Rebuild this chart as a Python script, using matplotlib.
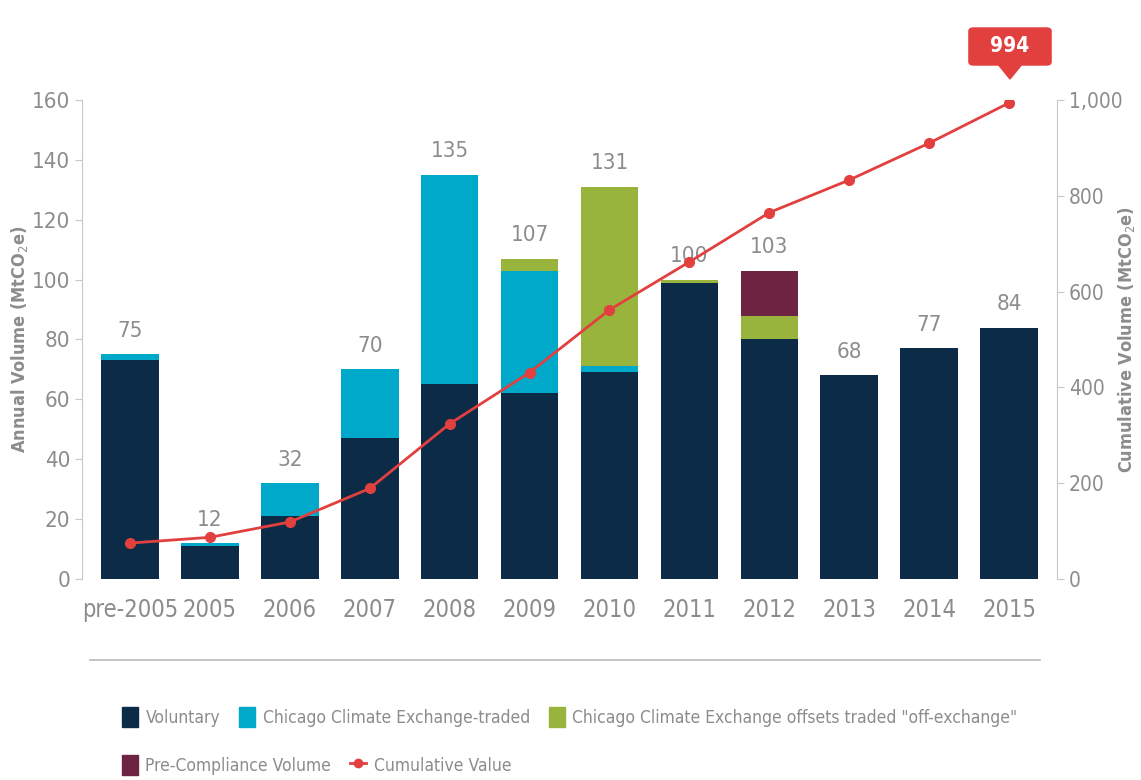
import matplotlib
matplotlib.use('Agg')
import matplotlib.pyplot as plt
from matplotlib.patches import FancyBboxPatch, Polygon, Patch
from matplotlib.lines import Line2D

plt.rcParams['font.family'] = ['DejaVu Sans']
plt.rcParams['font.stretch'] = 'condensed'

# annual volumes by segment (MtCO2e)
years = ['pre-2005', '2005', '2006', '2007', '2008', '2009', '2010', '2011', '2012', '2013', '2014', '2015']
voluntary = [73, 11, 21, 47, 65, 62, 69, 99, 80, 68, 77, 84]
ccx_traded = [2, 1, 11, 23, 70, 41, 2, 0, 0, 0, 0, 0]
ccx_off = [0, 0, 0, 0, 0, 4, 60, 1, 8, 0, 0, 0]
pre_compliance = [0, 0, 0, 0, 0, 0, 0, 0, 15, 0, 0, 0]
totals = [75, 12, 32, 70, 135, 107, 131, 100, 103, 68, 77, 84]
cumulative = [75, 87, 119, 189, 324, 431, 562, 662, 765, 833, 910, 994]

c_vol = '#0b2b47'
c_ccx = '#00a8c9'
c_off = '#99b43c'
c_pre = '#6d2443'
c_line = '#e2403f'
grey = '#8c8c8c'

fig = plt.figure(figsize=(11.41, 7.8), dpi=100)
ax = fig.add_axes([0.0719, 0.2577, 0.8545, 0.6141])
ax2 = ax.twinx()

x = list(range(len(years)))
w = 0.72
b1 = voluntary
b2 = [a + b for a, b in zip(b1, ccx_traded)]
b3 = [a + b for a, b in zip(b2, ccx_off)]
ax.bar(x, voluntary, w, color=c_vol, zorder=2)
ax.bar(x, ccx_traded, w, bottom=b1, color=c_ccx, zorder=2)
ax.bar(x, ccx_off, w, bottom=b2, color=c_off, zorder=2)
ax.bar(x, pre_compliance, w, bottom=b3, color=c_pre, zorder=2)

for i, t in enumerate(totals):
    ax.text(i, t + 4.5, str(t), ha='center', va='bottom', color=grey, fontsize=16)

ax2.plot(x, cumulative, color=c_line, lw=2, marker='o', ms=7, zorder=3)

ax.set_xlim(-0.6, 11.6)
ax.set_ylim(0, 160)
ax2.set_ylim(0, 1000)
ax.set_yticks(range(0, 161, 20))
ax2.set_yticks(range(0, 1001, 200))
ax2.set_yticklabels(['0', '200', '400', '600', '800', '1,000'])
ax.set_xticks(x)
ax.set_xticklabels(years)

for a in (ax, ax2):
    for s in ('top', 'bottom'):
        a.spines[s].set_visible(False)
    a.spines['left'].set_color('#c8c8c8')
    a.spines['right'].set_color('#c8c8c8')
    a.tick_params(axis='y', colors='#c8c8c8', labelcolor=grey, labelsize=16, length=5)
ax2.tick_params(axis='y', labelsize=15)
ax2.spines['left'].set_visible(False)
ax.spines['right'].set_visible(False)
ax.tick_params(axis='x', length=0, labelsize=17, labelcolor=grey, pad=14)

ax.set_ylabel('Annual Volume (MtCO$_2$e)', color=grey, fontsize=13, fontweight='bold')
ax2.set_ylabel('Cumulative Volume (MtCO$_2$e)', color=grey, fontsize=13, fontweight='bold')
ax.yaxis.set_label_coords(-0.053, 0.5)
ax2.yaxis.set_label_coords(1.061, 0.5)

# callout for final cumulative total
fig_x = 1010 / 1141
box = FancyBboxPatch((fig_x - 0.036, 1 - 65 / 780), 0.072, 37 / 780,
                     boxstyle='round,pad=0,rounding_size=0.004',
                     transform=fig.transFigure, color=c_line, zorder=5)
fig.patches.append(box)
tri = Polygon([[fig_x - 0.01, 1 - 65 / 780], [fig_x + 0.01, 1 - 65 / 780], [fig_x, 1 - 79 / 780]],
              closed=True, transform=fig.transFigure, color=c_line, zorder=5)
fig.patches.append(tri)
fig.text(fig_x, 1 - 46.5 / 780, str(cumulative[-1]), ha='center', va='center',
         color='white', fontsize=15, fontweight='bold', zorder=6)

# separator above legend
fig.add_artist(Line2D([90 / 1141, 1040 / 1141], [1 - 660 / 780] * 2, color='#bbbbbb', lw=1.2,
                      transform=fig.transFigure))

h1 = [Patch(color=c_vol, label='Voluntary'),
      Patch(color=c_ccx, label='Chicago Climate Exchange-traded'),
      Patch(color=c_off, label='Chicago Climate Exchange offsets traded "off-exchange"')]
h2 = [Patch(color=c_pre, label='Pre-Compliance Volume'),
      Line2D([], [], color=c_line, marker='o', ms=6, lw=2, label='Cumulative Value')]
kw = dict(frameon=False, handlelength=0.9, handleheight=1.4, handletextpad=0.45,
          columnspacing=1.1, fontsize=12.5, labelcolor=grey, loc='center left', borderaxespad=0)
leg1 = fig.legend(handles=h1, ncol=3, bbox_to_anchor=(115 / 1141, 1 - 717 / 780), **kw)
leg2 = fig.legend(handles=h2, ncol=2, bbox_to_anchor=(115 / 1141, 1 - 765 / 780), **kw)

fig.savefig('out.png', dpi=100)
